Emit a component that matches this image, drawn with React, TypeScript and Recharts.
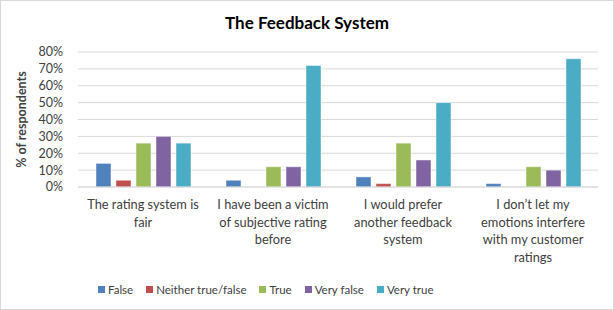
import { Bar, BarChart, CartesianGrid, Legend, XAxis, YAxis } from "recharts";

const categories = [
  "The rating system is fair",
  "I have been a victim of subjective rating before",
  "I would prefer another feedback system",
  "I don\u2019t let my emotions interfere with my customer ratings"
];

// wrapped tick labels as they appear under each group
const tickLines = [
  ["The rating system is", "fair"],
  ["I have been a victim", "of subjective rating", "before"],
  ["I would prefer", "another feedback", "system"],
  ["I don\u2019t let my", "emotions interfere", "with my customer", "ratings"]
];

const falseValues = [14, 4, 6, 2];
const neitherValues = [4, 0, 2, 0];
const trueValues = [26, 12, 26, 12];
const veryFalseValues = [30, 12, 16, 10];
const veryTrueValues = [26, 72, 50, 76];

const yTicks = [0, 10, 20, 30, 40, 50, 60, 70, 80];

const series = [
  { key: "false", name: "False", color: "#4F81BD" },
  { key: "neither", name: "Neither true/false", color: "#C0504D" },
  { key: "true", name: "True", color: "#9BBB59" },
  { key: "veryFalse", name: "Very false", color: "#8064A2" },
  { key: "veryTrue", name: "Very true", color: "#4BACC6" }
];

const data = categories.map((name, i) => ({
  name,
  false: falseValues[i],
  neither: neitherValues[i],
  true: trueValues[i],
  veryFalse: veryFalseValues[i],
  veryTrue: veryTrueValues[i]
}));

const FONT = "Lato, 'Liberation Sans', sans-serif";
const TEXT = "#404040";

function WrappedTick({ x, y, payload }: any) {
  const i = categories.indexOf(payload.value);
  const lines = tickLines[i] ?? [payload.value];
  return (
    <text x={x} y={y} textAnchor="middle" fill={TEXT} fontSize={12.8} fontFamily={FONT}>
      {lines.map((line, k) => (
        <tspan key={k} x={x} dy={k === 0 ? 14 : 17.5}>
          {line}
        </tspan>
      ))}
    </text>
  );
}

function LegendContent() {
  return (
    <div
      style={{
        height: 30,
        display: "flex",
        alignItems: "center",
        paddingLeft: 97,
        gap: 13,
        fontFamily: FONT,
        fontSize: 11.5,
        color: TEXT
      }}
    >
      {series.map((s) => (
        <div key={s.key} style={{ display: "flex", alignItems: "center" }}>
          <span style={{ width: 7, height: 7, background: s.color, marginRight: 3 }} />
          <span>{s.name}</span>
        </div>
      ))}
    </div>
  );
}

export default function App() {
  return (
    <div
      style={{
        position: "absolute",
        left: 0,
        top: 0,
        width: 612,
        height: 308,
        border: "1px solid #d9d9d9",
        background: "#fff"
      }}
    >
      <div
        style={{
          position: "absolute",
          top: 11,
          left: 0,
          width: 612,
          textAlign: "center",
          fontFamily: FONT,
          fontWeight: 700,
          fontSize: 17,
          color: "#000"
        }}
      >
        The Feedback System
      </div>
      <BarChart
        width={612}
        height={308}
        data={data}
        margin={{ top: 51, right: 15, bottom: 5, left: 0 }}
        barSize={15}
        barGap={5}
      >
        <CartesianGrid vertical={false} stroke="#d9d9d9" />
        <XAxis
          dataKey="name"
          interval={0}
          height={87}
          tick={<WrappedTick />}
          tickLine={false}
          axisLine={{ stroke: "#d9d9d9" }}
        />
        <YAxis
          width={77}
          domain={[0, 80]}
          ticks={yTicks}
          interval={0}
          tickFormatter={(v) => `${v}%`}
          tickLine={false}
          axisLine={false}
          tickMargin={9}
          tick={{ fill: TEXT, fontSize: 12.5, fontFamily: FONT }}
          label={{
            value: "% of respondents",
            angle: -90,
            position: "insideLeft",
            offset: 21,
            style: { textAnchor: "middle", fontWeight: 700, fontSize: 12.5, fontFamily: FONT, fill: TEXT }
          }}
        />
        <Legend verticalAlign="bottom" content={<LegendContent />} />
        {series.map((s) => (
          <Bar
            key={s.key}
            dataKey={s.key}
            name={s.name}
            fill={s.color}
            stroke="#ffffff"
            strokeOpacity={0.45}
            isAnimationActive={false}
          />
        ))}
      </BarChart>
    </div>
  );
}
